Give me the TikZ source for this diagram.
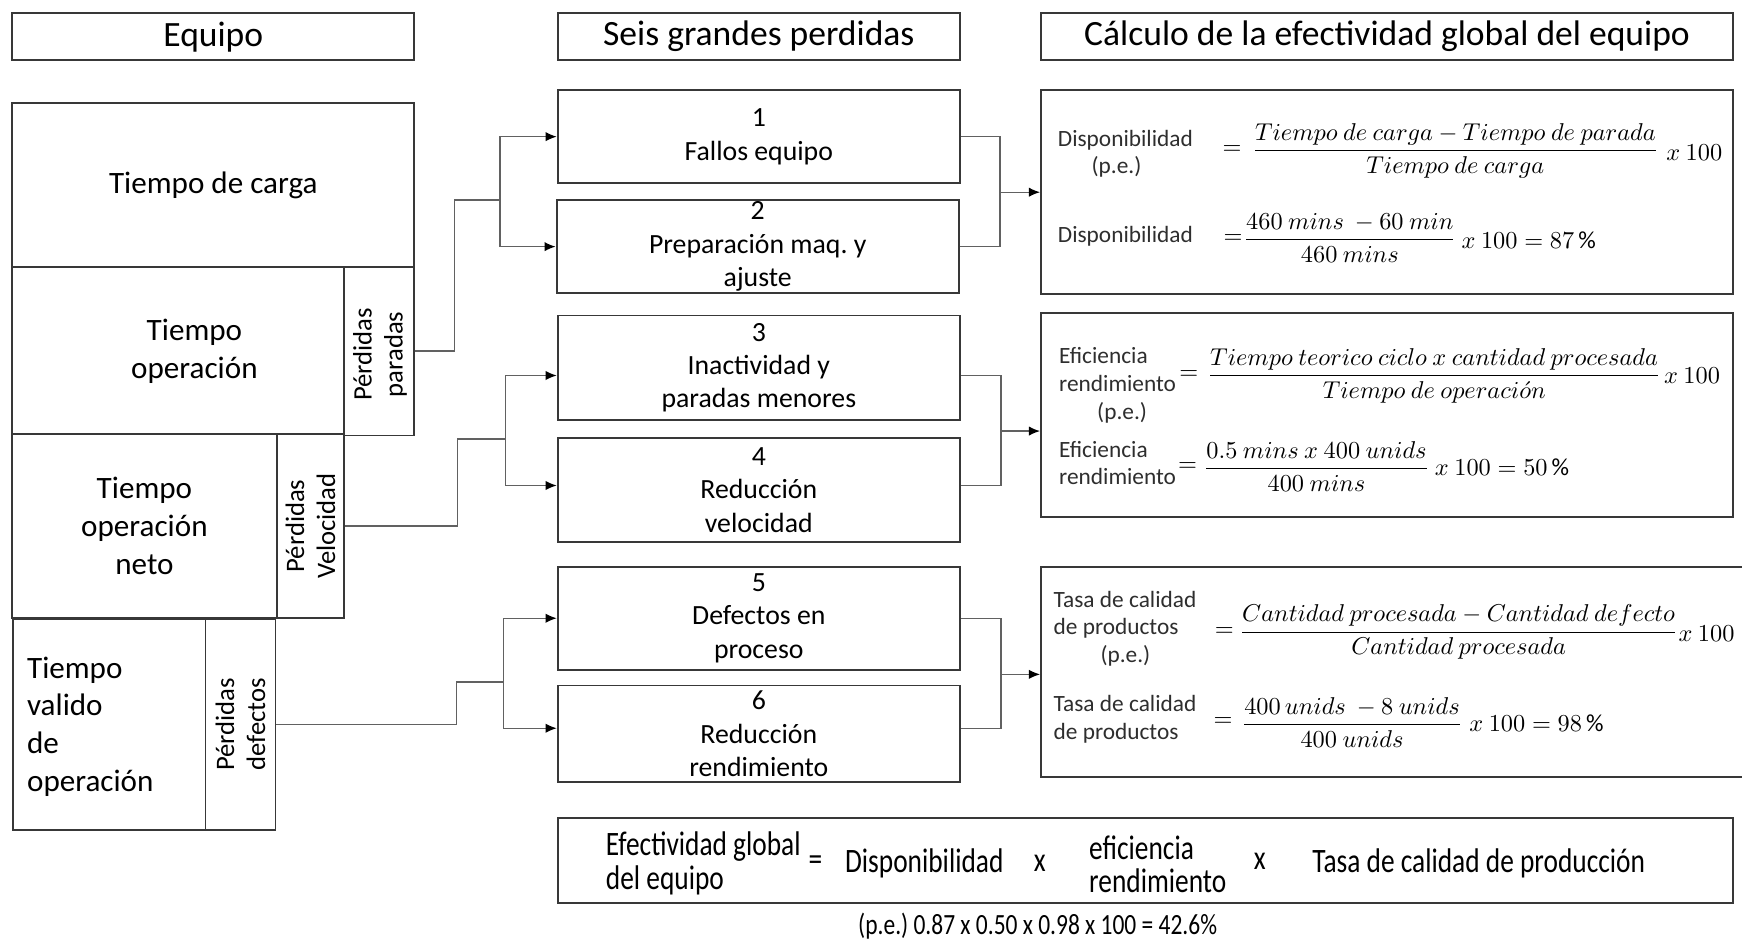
\documentclass[tikz,border=0pt]{standalone}
\usepackage{fontspec}
\usepackage{amsmath}
\setmainfont{Carlito}
\newfontfamily\condfont[FakeStretch=0.8]{Carlito}
\usetikzlibrary{fit,arrows.meta,calc}
\frenchspacing

\begin{document}
\begin{tikzpicture}[x=0.5pt,y=-0.5pt,
  bx/.style={draw=black!78, line width=0.85pt, inner sep=0pt, fit={#1}},
  hdr/.style={font=\fontsize{16}{19}\selectfont, inner sep=0pt},
  eqt/.style={font=\fontsize{14}{17}\selectfont, align=center, inner sep=0pt},
  rot/.style={rotate=90, font=\fontsize{12}{14}\selectfont, align=center, inner sep=0pt},
  loss/.style={font=\fontsize{12.5}{15}\selectfont, align=center, inner sep=0pt},
  lbl/.style={font=\fontsize{10.5}{12.5}\selectfont, text=black!82, inner sep=0pt, text height=7.5pt, text depth=2pt},
  frm/.style={font=\fontsize{11}{13}\selectfont, inner sep=0pt},
  tot/.style={font=\condfont\fontsize{15.4}{15}\selectfont, inner sep=0pt, align=left},
  link/.style={draw=black!62, line width=0.6pt},
  arr/.style={link, -{Latex[length=5pt,width=4.2pt,color=black]}}
]
\useasboundingbox (0,0) rectangle (1568,846);

% ---- column headers
\node[bx={(11,12) (373,54)}] (hEq) {};
\node[hdr] (hEqT) at (hEq) {Equipo};
\node[bx={(502,12) (864,54)}] (hSeis) {};
\node[hdr] (hSeisT) at (hSeis) {Seis grandes perdidas};
\node[bx={(937,12) (1560,54)}] (hCalc) {};
\node[hdr] (hCalcT) at (hCalc) {Cálculo de la efectividad global del equipo};

% ---- equipment time blocks
\node[bx={(11,93) (373,240)}] (tc) {};
\node[eqt] (tcT) at (tc) {Tiempo de carga};
\node[bx={(11,240) (310,391)}] (to) {};
\node[eqt] (toT) at (175,316) {Tiempo\\operación};
\node[bx={(310,240) (373,392)}] (pp) {};
\node[rot] (ppT) at (342,319) {Pérdidas\\paradas};
\node[bx={(11,391) (249,556)}] (tn) {};
\node[eqt] (tnT) at (tn) {Tiempo\\operación\\neto};
\node[bx={(249,391) (310,556)}] (pv) {};
\node[rot] (pvT) at (pv) {Pérdidas\\Velocidad};
\node[bx={(12,557) (185,747)}] (tv) {};
\node[eqt, align=left, anchor=west] (tvT) at (24,654) {Tiempo\\valido\\de\\operación};
\node[bx={(185,557) (248,747)}] (pd) {};
\node[rot] (pdT) at (pd) {Pérdidas\\defectos};

% ---- six big losses
\node[bx={(502,81) (864,165)}] (b1) {};
\node[loss] (b1T) at (b1) {1\\Fallos equipo};
\node[bx={(501,180) (863,264)}] (b2) {};
\node[loss] (b2T) at (b2) {2\\Preparación maq. y\\ajuste};
\node[bx={(502,284) (864,378)}] (b3) {};
\node[loss] (b3T) at (b3) {3\\Inactividad y\\paradas menores};
\node[bx={(502,394) (864,488)}] (b4) {};
\node[loss] (b4T) at (b4) {4\\Reducción\\velocidad};
\node[bx={(502,510) (864,603)}] (b5) {};
\node[loss] (b5T) at (b5) {5\\Defectos en\\proceso};
\node[bx={(502,617) (864,704)}] (b6) {};
\node[loss] (b6T) at (b6) {6\\Reducción\\rendimiento};

% ---- calculation boxes
\node[bx={(937,81) (1560,265)}] (c1) {};
\node[bx={(937,282) (1560,465)}] (c2) {};
\node[bx={(937,510) (1574,699)}] (c3) {};
\node[bx={(502,736) (1560,813)}] (ct) {};

% availability
\node[lbl] (c1a) at (1013,126) {Disponibilidad};
\node[lbl] (c1b) at (1005,151) {(p.e.)};
\node[frm] (c1e) at (1109,135) {$=$};
\node[frm] (c1f) at (1310,136) {$\dfrac{Tiempo\ de\ carga-Tiempo\ de\ parada}{Tiempo\ de\ carga}$};
\node[frm] (c1x) at (1525,137) {$x\ 100$};
\node[lbl] (c1c) at (1013,213) {Disponibilidad};
\node[frm] (c1g) at (1110,215) {$=$};
\node[frm] (c1h) at (1215,214) {$\dfrac{460\ mins\ -60\ min}{460\ mins}$};
\node[frm] (c1r) at (1376,216) {$x\ 100=87\,\%$};

% performance efficiency
\node[lbl, anchor=west] (c2a) at (953,322) {Eficiencia};
\node[lbl, anchor=west] (c2b) at (953,347) {rendimiento};
\node[lbl] (c2c) at (1010,372) {(p.e.)};
\node[frm] (c2e) at (1070,338) {$=$};
\node[frm] (c2f) at (1291,338) {$\dfrac{Tiempo\ teorico\ ciclo\ x\ cantidad\ procesada}{Tiempo\ de\ operaci\acute{o}n}$};
\node[frm] (c2x) at (1523,338) {$x\ 100$};
\node[lbl, anchor=west] (c2d) at (953,406) {Eficiencia};
\node[lbl, anchor=west] (c2g) at (953,431) {rendimiento};
\node[frm] (c2h) at (1069,420) {$=$};
\node[frm] (c2i) at (1185,420) {$\dfrac{0.5\ mins\ x\ 400\ unids}{400\ mins}$};
\node[frm] (c2r) at (1352,421) {$x\ 100=50\,\%$};

% quality rate
\node[lbl, anchor=west] (c3a) at (948,541) {Tasa de calidad};
\node[lbl, anchor=west] (c3b) at (948,566) {de productos};
\node[lbl] (c3c) at (1013,591) {(p.e.)};
\node[frm] (c3e) at (1102,569) {$=$};
\node[frm] (c3f) at (1313,569) {$\dfrac{Cantidad\ procesada-Cantidad\ defecto}{Cantidad\ procesada}$};
\node[frm] (c3x) at (1536,570) {$x\ 100$};
\node[lbl, anchor=west] (c3d) at (948,635) {Tasa de calidad};
\node[lbl, anchor=west] (c3g) at (948,660) {de productos};
\node[frm] (c3h) at (1101,650) {$=$};
\node[frm] (c3i) at (1217,650) {$\dfrac{400\,unids\ -8\ unids}{400\ unids}$};
\node[frm] (c3r) at (1383,651) {$x\ 100=98\,\%$};

% overall equipment effectiveness
\node[tot, anchor=west] (t1) at (545,777) {Efectividad global\\del equipo};
\node[tot] (t2) at (734,777) {=};
\node[tot] (t3) at (832,777) {Disponibilidad};
\node[tot] (t4) at (936,777) {x};
\node[tot, anchor=west] (t5) at (980,778) {eficiencia\\rendimiento};
\node[tot] (t6) at (1134,775) {x};
\node[tot] (t7) at (1331,777) {Tasa de calidad de producción};
\node[font=\condfont\fontsize{13.2}{15}\selectfont, inner sep=0pt] (cap) at (934,834) {(p.e.) 0.87 x 0.50 x 0.98 x 100 = 42.6\%};

% ---- connectors: losses to the six big losses
\coordinate (j1) at (450,180);
\draw[link] (pp.east) -- ++(35,0) |- (j1);
\draw[arr] (j1) |- (b1.west);
\draw[arr] (j1) |- (b2.west);

\coordinate (j2) at (455,395);
\draw[link] (pv.east) -- ++(101,0) |- (j2);
\draw[arr] (j2) |- ([yshift=-3.5pt]b3.west);
\draw[arr] (j2) |- ([yshift=2pt]b4.west);

\coordinate (j3) at (453,614);
\draw[link] (pd.east) -- ++(162,0) |- (j3);
\draw[arr] (j3) |- (b5.west);
\draw[arr] (j3) |- ([yshift=2.5pt]b6.west);

% ---- connectors: six big losses to the calculations
\coordinate (k1) at (900,173);
\draw[link] (b1.east) -| (k1);
\draw[link] (b2.east) -| (k1);
\draw[arr] (k1) -- (c1.west |- k1);

\coordinate (k2) at (901,388);
\draw[link] ([yshift=-3.5pt]b3.east) -| (k2);
\draw[link] ([yshift=2pt]b4.east) -| (k2);
\draw[arr] (k2) -- (c2.west |- k2);

\coordinate (k3) at (901,607);
\draw[link] (b5.east) -| (k3);
\draw[link] ([yshift=2.5pt]b6.east) -| (k3);
\draw[arr] (k3) -- (c3.west |- k3);
\end{tikzpicture}
\end{document}
